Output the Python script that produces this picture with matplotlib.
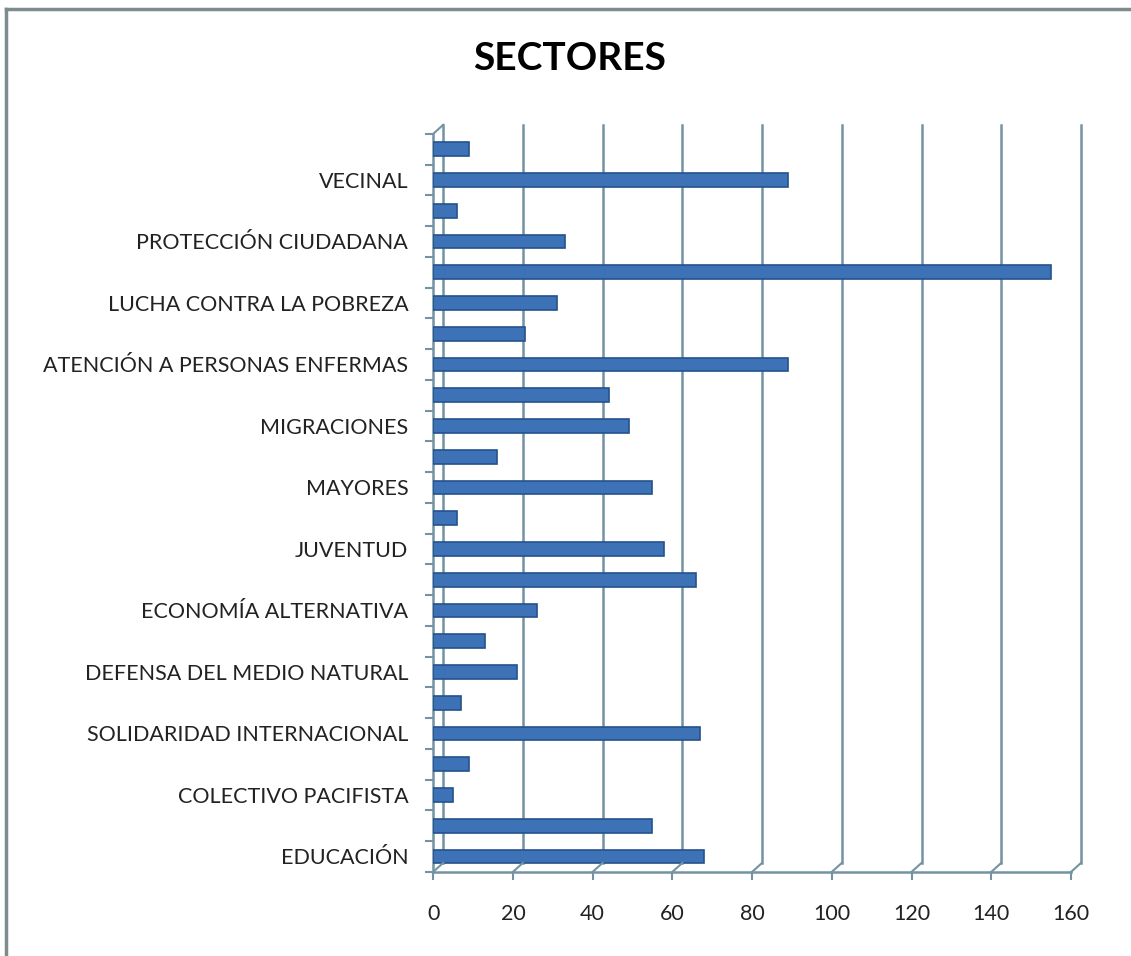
import matplotlib.pyplot as plt
import matplotlib.transforms as mtransforms
import numpy as np

# sectors, bottom to top (only every other bar carries a label)
labels = ['EDUCACIÓN', '', 'COLECTIVO PACIFISTA', '', 'SOLIDARIDAD INTERNACIONAL', '',
          'DEFENSA DEL MEDIO NATURAL', '', 'ECONOMÍA ALTERNATIVA', '', 'JUVENTUD', '',
          'MAYORES', '', 'MIGRACIONES', '', 'ATENCIÓN A PERSONAS ENFERMAS', '',
          'LUCHA CONTRA LA POBREZA', '', 'PROTECCIÓN CIUDADANA', '', 'VECINAL', '']
values = [68, 55, 5, 9, 67, 7, 21, 13, 26, 66, 58, 6,
          55, 16, 49, 44, 89, 23, 31, 155, 33, 6, 89, 9]
xticks = [0, 20, 40, 60, 80, 100, 120, 140, 160]

plt.rcParams['font.family'] = ['Lato', 'DejaVu Sans']
line_col = '#7393a3'

fig = plt.figure(figsize=(11.31, 9.56), dpi=100)
ax = fig.add_axes([0.383, 0.088, 0.564, 0.772])

y = np.arange(len(values))
ax.barh(y, values, height=0.45, color='#3d72b6', edgecolor='#24528c', linewidth=1.2, zorder=3)

ax.set_xlim(0, 160)
ax.set_ylim(-0.5, len(values) - 0.5)
ax.set_xticks(xticks)
ax.set_xticklabels([str(v) for v in xticks], fontsize=15.5, color='#222222')
ax.set_yticks(y[::2])
ax.set_yticklabels(labels[::2], fontsize=15.5, color='#222222')
ax.set_yticks(np.arange(-0.5, len(values), 1), minor=True)
ax.tick_params(axis='y', which='major', length=0, pad=18)
ax.tick_params(axis='y', which='minor', length=6, color=line_col, width=1.5)
ax.tick_params(axis='x', length=6, color=line_col, width=1.5, pad=17)

# back-wall gridlines, shifted up/right for the 3D look, joined to the floor ticks
off = mtransforms.ScaledTranslation(0.10, 0.09, fig.dpi_scale_trans)
trans = ax.get_xaxis_transform()
for xv in xticks:
    ax.plot([xv, xv], [0, 1], color=line_col, linewidth=1.8, zorder=1,
            transform=trans + off, clip_on=False)
    ax.plot([xv, xv], [0, 0], color=line_col, linewidth=1.5, zorder=1,
            transform=trans, clip_on=False)
    p0 = trans.transform((xv, 0))
    p1 = (trans + off).transform((xv, 0))
    inv = fig.transFigure.inverted()
    a, b = inv.transform(p0), inv.transform(p1)
    fig.add_artist(plt.Line2D([a[0], b[0]], [a[1], b[1]], color=line_col, linewidth=1.5))

# left diagonal at top of the side wall
tl = ax.transAxes.transform((0, 1))
tl2 = (ax.transAxes + off).transform((0, 1))
inv = fig.transFigure.inverted()
a, b = inv.transform(tl), inv.transform(tl2)
fig.add_artist(plt.Line2D([a[0], b[0]], [a[1], b[1]], color=line_col, linewidth=1.5))

for side in ['top', 'right']:
    ax.spines[side].set_visible(False)
for side in ['left', 'bottom']:
    ax.spines[side].set_color(line_col)
    ax.spines[side].set_linewidth(1.8)

fig.text(0.504, 0.939, 'SECTORES', ha='center', va='center', fontsize=28, fontweight='bold')

# outer chart border (only left and top edges fall inside the picture)
fig.add_artist(plt.Line2D([0.0055, 0.0055], [0.0, 0.991], color='#7d8a8e', linewidth=2.5))
fig.add_artist(plt.Line2D([0.0055, 1.0], [0.991, 0.991], color='#7d8a8e', linewidth=2.5))

fig.savefig('out.png', dpi=100)
